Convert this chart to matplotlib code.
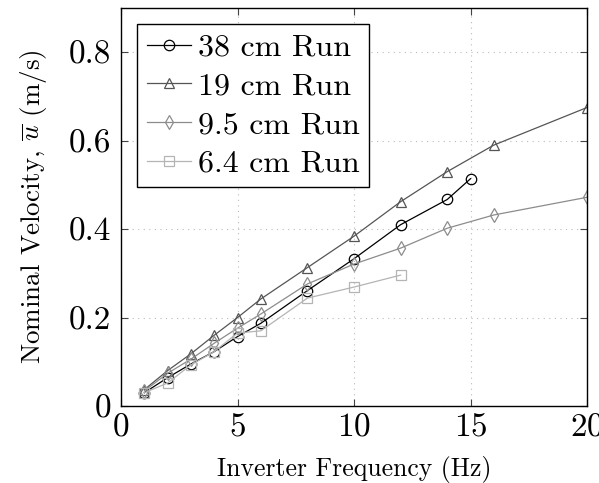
import matplotlib
matplotlib.use("Agg")
import matplotlib.pyplot as plt

plt.rcParams['font.family'] = 'serif'
plt.rcParams['font.serif'] = ['cmr10']
plt.rcParams['mathtext.fontset'] = 'cm'
plt.rcParams['axes.formatter.use_mathtext'] = True

x38 = [1, 2, 3, 4, 5, 6, 8, 10, 12, 14, 15]
y38 = [0.030, 0.064, 0.095, 0.123, 0.157, 0.187, 0.261, 0.333, 0.410, 0.467, 0.514]
x19 = [1, 2, 3, 4, 5, 6, 8, 10, 12, 14, 16, 20]
y19 = [0.037, 0.080, 0.118, 0.160, 0.200, 0.242, 0.313, 0.384, 0.462, 0.530, 0.590, 0.675]
x95 = [1, 2, 3, 4, 5, 6, 8, 10, 12, 14, 16, 20]
y95 = [0.034, 0.074, 0.106, 0.142, 0.176, 0.208, 0.276, 0.321, 0.357, 0.402, 0.432, 0.472]
x64 = [1, 2, 3, 4, 5, 6, 8, 10, 12]
y64 = [0.030, 0.052, 0.093, 0.123, 0.165, 0.170, 0.244, 0.269, 0.296]

xticks = [0, 5, 10, 15, 20]
yticks = [0, 0.2, 0.4, 0.6, 0.8]
ytick_labels = ['0', '0.2', '0.4', '0.6', '0.8']

fig = plt.figure(figsize=(5.99, 4.83), dpi=100)
ax = fig.add_axes([0.202, 0.1594, 0.778, 0.824])

series = [
    (x38, y38, 'o', '#000000', '38 cm Run', 7.5),
    (x19, y19, '^', '#555555', '19 cm Run', 7),
    (x95, y95, 'd', '#8c8c8c', '9.5 cm Run', 7),
    (x64, y64, 's', '#b4b4b4', '6.4 cm Run', 6.5),
]
for xs, ys, m, c, lab, ms in series:
    ax.plot(xs, ys, marker=m, color=c, mfc='none', mec=c, ms=ms, lw=0.9, mew=0.9, label=lab)

ax.set_xlim(0, 20)
ax.set_ylim(0, 0.9)
ax.set_xticks(xticks)
ax.set_yticks(yticks)
ax.set_yticklabels(ytick_labels)
ax.tick_params(direction='in', top=True, right=True, labelsize=24, length=5, color='#444444')
ax.tick_params(axis='x', pad=5)
ax.tick_params(axis='y', pad=7)
ax.grid(True, linestyle=(0, (1, 4)), color='#bbbbbb', lw=0.8)
for s in ax.spines.values():
    s.set_linewidth(1.0)

ax.set_xlabel('Inverter Frequency (Hz)', fontsize=18.5, labelpad=10)
ax.set_ylabel(r'Nominal Velocity, $\overline{u}$ (m/s)', fontsize=19.5, labelpad=14)

leg = ax.legend(loc='upper left', fontsize=23, frameon=True, fancybox=False,
                edgecolor='black', framealpha=1, handlelength=1.4, handletextpad=0.2,
                borderpad=0.3, labelspacing=0.32, borderaxespad=0.5)
leg.get_frame().set_linewidth(1.0)

fig.savefig('out.png', dpi=100)
